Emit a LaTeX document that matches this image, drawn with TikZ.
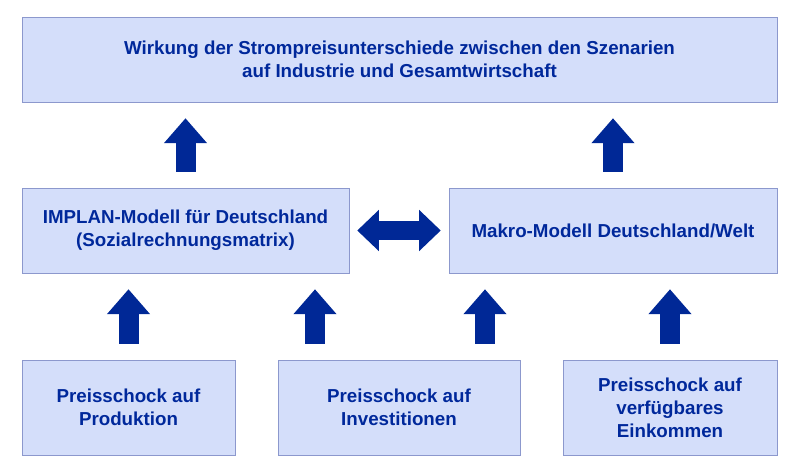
\documentclass[tikz,border=0pt]{standalone}
\usepackage{fontspec}
\setmainfont{Liberation Sans}
\usetikzlibrary{arrows.meta}
\definecolor{boxfill}{RGB}{212,222,250}
\definecolor{boxline}{RGB}{140,152,205}
\definecolor{textblue}{RGB}{0,40,155}
\definecolor{arrowblue}{RGB}{0,40,150}
\begin{document}
\begin{tikzpicture}[x=0.03cm,y=-0.03cm,
	box/.style={draw=boxline,fill=boxfill,align=center,text=textblue,
		font=\fontsize{16}{19.5}\selectfont\bfseries,inner sep=0pt},
	uparrow/.style={draw=arrowblue,line width=0.6cm,shorten <=0.48cm,shorten >=0.48cm,
		-{Triangle[length=0.75cm,width=1.25cm]}},
	bothways/.style={draw=arrowblue,line width=0.55cm,shorten <=0.24cm,shorten >=0.24cm,
		{Triangle[length=0.65cm,width=1.2cm]}-{Triangle[length=0.65cm,width=1.2cm]}}]
	\useasboundingbox (0,0) rectangle (800,473);
	% boxes
	\node[box,minimum width=22.65cm,minimum height=2.55cm] (top) at (399.5,59.5)
		{Wirkung der Strompreisunterschiede zwischen den Szenarien\\auf Industrie und Gesamtwirtschaft};
	\node[box,minimum width=9.81cm,minimum height=2.55cm] (implan) at (185.5,230.5)
		{IMPLAN-Modell für Deutschland\\(Sozialrechnungsmatrix)};
	\node[box,minimum width=9.84cm,minimum height=2.55cm] (makro) at (613,230.5)
		{Makro-Modell Deutschland/Welt};
	\node[box,minimum width=6.39cm,minimum height=2.85cm] (prod) at (128.5,407.5)
		{Preisschock auf\\Produktion};
	\node[box,minimum width=7.26cm,minimum height=2.85cm] (invest) at (399,407.5)
		{Preisschock auf\\Investitionen};
	\node[box,minimum width=6.42cm,minimum height=2.85cm] (eink) at (670,407.5)
		{Preisschock auf\\verfügbares\\Einkommen};
	% arrows
	\draw[uparrow] (implan.north) -- (implan.north |- top.south);
	\draw[uparrow] (makro.north) -- (makro.north |- top.south);
	\draw[uparrow] (prod.north) -- (prod.north |- implan.south);
	\draw[uparrow] ([xshift=-2.52cm]invest.north) -- ([xshift=-2.52cm]invest.north |- implan.south);
	\draw[uparrow] ([xshift=2.58cm]invest.north) -- ([xshift=2.58cm]invest.north |- makro.south);
	\draw[uparrow] (eink.north) -- (eink.north |- makro.south);
	\draw[bothways] (implan.east) -- (makro.west);
\end{tikzpicture}
\end{document}
